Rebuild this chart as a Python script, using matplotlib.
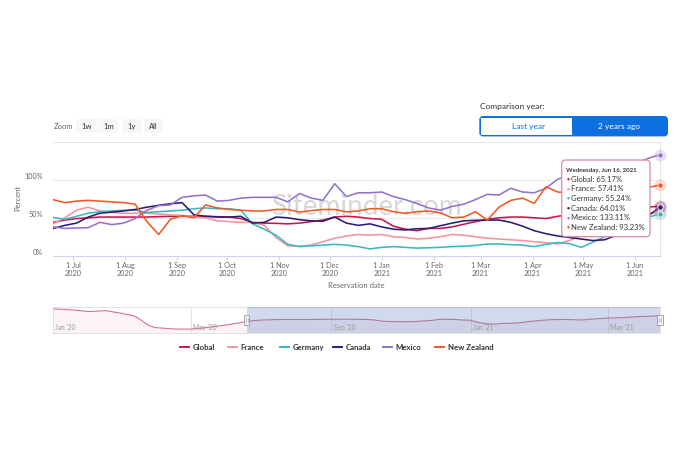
import matplotlib.pyplot as plt
import matplotlib.dates as mdates
import matplotlib.transforms as mtransforms
from matplotlib.patches import FancyBboxPatch, Rectangle
from matplotlib.lines import Line2D
import pandas as pd

plt.rcParams['font.family'] = ['Lato', 'DejaVu Sans']

W, H = 680, 453  # canvas in px (dpi 100)

# weekly points of the visible window, the last one is the hovered day
dates = list(pd.date_range('2020-06-19', periods=52, freq='7D')) + [pd.Timestamp('2021-06-16')]

global_pct = [44, 47, 49, 50, 51, 51, 51, 51, 51, 51.5, 52, 52, 52, 52, 51.5, 51, 49, 44, 43, 42.7,
              42, 43, 45, 47, 51, 52, 51, 49, 48, 39, 35, 33, 36, 36, 38, 41.5, 45, 48, 50, 51,
              51, 50, 49, 52, 54, 56, 57, 58, 60, 62, 63, 64.5, 65.17]
france_pct = [42, 50, 60, 64, 59, 57, 56, 56, 56, 55, 54, 53, 51, 50, 46, 45, 44, 44, 40, 24,
              13, 12.5, 14, 18.5, 23, 26, 28, 27, 28, 25, 24, 22, 23, 25, 28, 27, 25, 23, 22, 21,
              20, 18.5, 17, 15.5, 20, 27, 33, 38, 43, 48, 53, 56, 57.41]
germany_pct = [50.5, 48, 52, 56, 58, 59, 60, 60, 57, 58, 59, 60, 62, 63, 62, 62, 60, 42, 35, 27,
               15, 12, 13, 14, 15, 14, 12, 9, 11, 12, 11, 10, 10.5, 11, 12, 12.5, 13.5, 15.5, 15.5, 14.5,
               14, 12, 15, 17.5, 16, 11, 18, 25, 32, 40, 47, 52, 55.24]
canada_pct = [36, 40, 43, 51, 56, 57.5, 59, 61, 64, 66.5, 68.5, 70, 54, 52, 51, 51, 52, 43, 44, 51,
              50, 47.5, 46, 45.5, 51, 43, 40, 42, 38, 35, 34, 35.5, 36, 39.5, 43, 46, 46.7, 47, 47, 44,
              39, 33, 29, 26, 24, 22, 20, 21, 27, 35, 45, 56, 64.01]
mexico_pct = [38, 36, 36.5, 37, 44, 41, 43, 49, 60, 66, 67, 77, 79, 80, 72, 73, 76, 77, 77, 77,
              71, 82, 76, 73, 95, 78, 83, 83, 84, 78, 74, 69, 63, 60, 65, 68, 74, 81, 80, 89,
              84, 83, 89, 101, 106, 110, 112, 115, 118, 121, 124, 130, 133.11]
new_zealand_pct = [74, 70, 72, 73, 72, 71, 70, 68, 45, 28, 48, 53, 50, 67, 63, 61, 60, 59, 59, 61,
                   61, 57.5, 59.5, 61, 61, 57.8, 59, 62, 62, 58, 56, 58, 59, 56.5, 50, 51, 58, 47, 64, 73,
                   76, 69, 91, 84, 83, 84, 85, 86, 87, 88, 90, 91, 93.23]

series_names = ['Global', 'France', 'Germany', 'Canada', 'Mexico', 'New Zealand']
series_values = [global_pct, france_pct, germany_pct, canada_pct, mexico_pct, new_zealand_pct]
series_colors = ['#c8174a', '#f4929e', '#38b8c4', '#2e1b70', '#9272cc', '#f15a24']

# navigator shows Global from Jan 2020 too
nav_pre_dates = list(pd.to_datetime(['2020-01-01', '2020-01-18', '2020-02-02', '2020-02-16', '2020-02-28',
                                     '2020-03-12', '2020-03-18', '2020-03-24', '2020-03-30', '2020-04-17',
                                     '2020-05-01', '2020-05-15', '2020-06-01', '2020-06-12']))
nav_pre_pct = [92, 88, 81.5, 85, 76.5, 65, 49.5, 30, 20, 14, 14, 20, 30, 38]
nav_ticks = pd.to_datetime(['2020-01-01', '2020-05-01', '2020-09-01', '2021-01-01', '2021-05-01'])

month_ticks = pd.date_range('2020-07-01', '2021-06-01', freq='MS')
tooltip_title = 'Wednesday, Jun 16, 2021'


def inch(x, y):
    return x / 100, (H - y) / 100


fig = plt.figure(figsize=(W / 100, H / 100), dpi=100)
fig.patch.set_facecolor('white')

# ---- main chart
ax = fig.add_axes([53 / W, 1 - 255.7 / H, 607 / W, 113.7 / H])
for k, (vals, color) in enumerate(zip(series_values, series_colors)):
    ax.plot(dates, vals, color=color, lw=1.15, zorder=3 + k, solid_joinstyle='round')
    ax.scatter([dates[-1]], [vals[-1]], s=75, color=color, alpha=0.22, lw=0, clip_on=False, zorder=12)
    ax.scatter([dates[-1]], [vals[-1]], s=14, color=color, edgecolor='white', lw=0.5,
               clip_on=False, zorder=13)

ax.set_xlim(pd.Timestamp('2020-06-19'), pd.Timestamp('2021-06-16'))
ax.set_ylim(0, 150)
ax.set_yticks([0, 50, 100])
ax.yaxis.set_major_formatter(lambda v, p: f'{v:.0f}%')
ax.set_xticks(month_ticks)
ax.xaxis.set_major_formatter(mdates.DateFormatter('1 %b\n%Y'))
ax.tick_params(axis='x', length=3, color='#ccd6eb', labelsize=5.2, labelcolor='#666666', pad=1.5)
ax.tick_params(axis='y', length=0, labelsize=5.2, labelcolor='#666666', pad=7)
plt.setp(ax.get_yticklabels(), va='bottom')
ax.grid(axis='y', color='#e9e9e9', lw=0.7)
ax.set_axisbelow(True)
ax.spines['left'].set_visible(False)
for s in ['top', 'right']:
    ax.spines[s].set_color('#e6e6e6')
    ax.spines[s].set_linewidth(0.7)
ax.spines['bottom'].set_color('#ccd6eb')
ax.spines['bottom'].set_linewidth(0.8)

# watermark behind the lines
ax.text(0.516, 0.43, 'Siteminder.com', transform=ax.transAxes, fontsize=20,
        color='#b8b8b8', alpha=0.55, ha='center', va='center', zorder=2, clip_on=False)

fig.text(17.3 / W, 1 - 198.3 / H, 'Percent', rotation=90, fontsize=5.5, color='#666666',
         ha='center', va='center')
fig.text(356.7 / W, 1 - 286 / H, 'Reservation date', fontsize=5.5, color='#666666',
         ha='center', va='center')

# ---- zoom buttons
fig.text(53.3 / W, 1 - 126.5 / H, 'Zoom', fontsize=5.5, color='#666666', va='center')
for label, x0, x1 in [('1w', 76, 96.7), ('1m', 98.3, 118.3), ('1y', 121.7, 141.7), ('All', 144, 163.3)]:
    fig.add_artist(Rectangle(inch(x0, 133.3), (x1 - x0) / 100, 14 / 100, transform=fig.dpi_scale_trans,
                             fc='#f7f7f7', ec='none'))
    fig.text((x0 + x1) / 2 / W, 1 - 126.5 / H, label, fontsize=5.5, color='#333333',
             ha='center', va='center')

# ---- comparison year switch
blue = '#0d6fe0'
fig.text(480 / W, 1 - 106 / H, 'Comparison year:', fontsize=6, color='#333333', va='center')
fig.add_artist(FancyBboxPatch(inch(480, 135.7), (667.3 - 480) / 100, 19 / 100,
                              boxstyle='round,pad=0,rounding_size=0.03', transform=fig.dpi_scale_trans,
                              fc=blue, ec=blue, lw=1))
fig.add_artist(Rectangle(inch(481.2, 134.5), (571.7 - 481.2) / 100, 16.6 / 100,
                         transform=fig.dpi_scale_trans, fc='white', ec='none'))
fig.text(528.3 / W, 1 - 126.2 / H, 'Last year', fontsize=6, color=blue, ha='center', va='center')
fig.text(619 / W, 1 - 126.2 / H, '2 years ago', fontsize=6, color='white', ha='center', va='center')

# ---- tooltip
fig.add_artist(FancyBboxPatch(inch(561.7, 236.7), (650 - 561.7) / 100, (236.7 - 160) / 100,
                              boxstyle='round,pad=0,rounding_size=0.04', transform=fig.dpi_scale_trans,
                              fc='white', ec='#d98aa5', lw=0.9, zorder=20))
fig.text(566.5 / W, 1 - 170.7 / H, tooltip_title, fontsize=4.4, fontweight='bold', color='#333333',
         va='center', zorder=21)
for k, (name, vals, color) in enumerate(zip(series_names, series_values, series_colors)):
    ty = 179.3 + k * 9.6
    fig.text(566.5 / W, 1 - ty / H, '\u25cf', fontsize=3.6, color=color, va='center', zorder=21)
    fig.text(571 / W, 1 - ty / H, f'{name}: {vals[-1]:.2f}%', fontsize=5.5, color='#333333',
             va='center', zorder=21)

# ---- navigator
nav = fig.add_axes([53 / W, 1 - 332.7 / H, 607 / W, 25.4 / H])
nav_dates = nav_pre_dates + dates
nav_vals = nav_pre_pct + global_pct
nav.plot(nav_dates, nav_vals, color='#d4738f', lw=0.8, zorder=2)
nav.fill_between(nav_dates, nav_vals, 0, color='#c8174a', alpha=0.05, lw=0, zorder=1)
nav.set_xlim(pd.Timestamp('2020-01-01'), pd.Timestamp('2021-06-16'))
nav.set_ylim(0, 98)
nav.axvspan(pd.Timestamp('2020-06-19'), pd.Timestamp('2021-06-16'), color=(102 / 255, 133 / 255, 194 / 255),
            alpha=0.3, lw=0, zorder=3)
nav.set_xticks([])
nav.set_yticks([])
for s in nav.spines.values():
    s.set_color('#dddddd')
    s.set_linewidth(0.6)
blend = mtransforms.blended_transform_factory(nav.transData, nav.transAxes)
for d in nav_ticks:
    nav.axvline(d, color='#e6e6e6', lw=0.7, zorder=0)
    nav.text(d + pd.Timedelta(days=2), 0.21, d.strftime("%b '%y"), transform=blend, fontsize=4.8,
             color='#999999', va='center', zorder=4)
for d in [pd.Timestamp('2020-06-19'), pd.Timestamp('2021-06-16')]:
    xd = mdates.date2num(d)
    nav.add_patch(Rectangle((xd - 2.2, 0.32), 4.4, 0.36, transform=blend, fc='#f2f2f2', ec='#999999',
                            lw=0.6, clip_on=False, zorder=6))
    for off in (-0.8, 0.8):
        nav.add_line(Line2D([xd + off, xd + off], [0.42, 0.58], transform=blend, color='#999999',
                            lw=0.4, clip_on=False, zorder=7))

# ---- legend
legend_x = [180, 228, 280, 333, 383, 435]
for name, color, x0 in zip(series_names, series_colors, legend_x):
    fig.add_artist(Line2D([x0 / W, (x0 + 9) / W], [1 - 347.3 / H] * 2, transform=fig.transFigure,
                          color=color, lw=1.4))
    fig.text((x0 + 12.5) / W, 1 - 347.3 / H, name, fontsize=5.6, fontweight='bold', color='#333333',
             va='center')

fig.savefig('out.png', dpi=100)
